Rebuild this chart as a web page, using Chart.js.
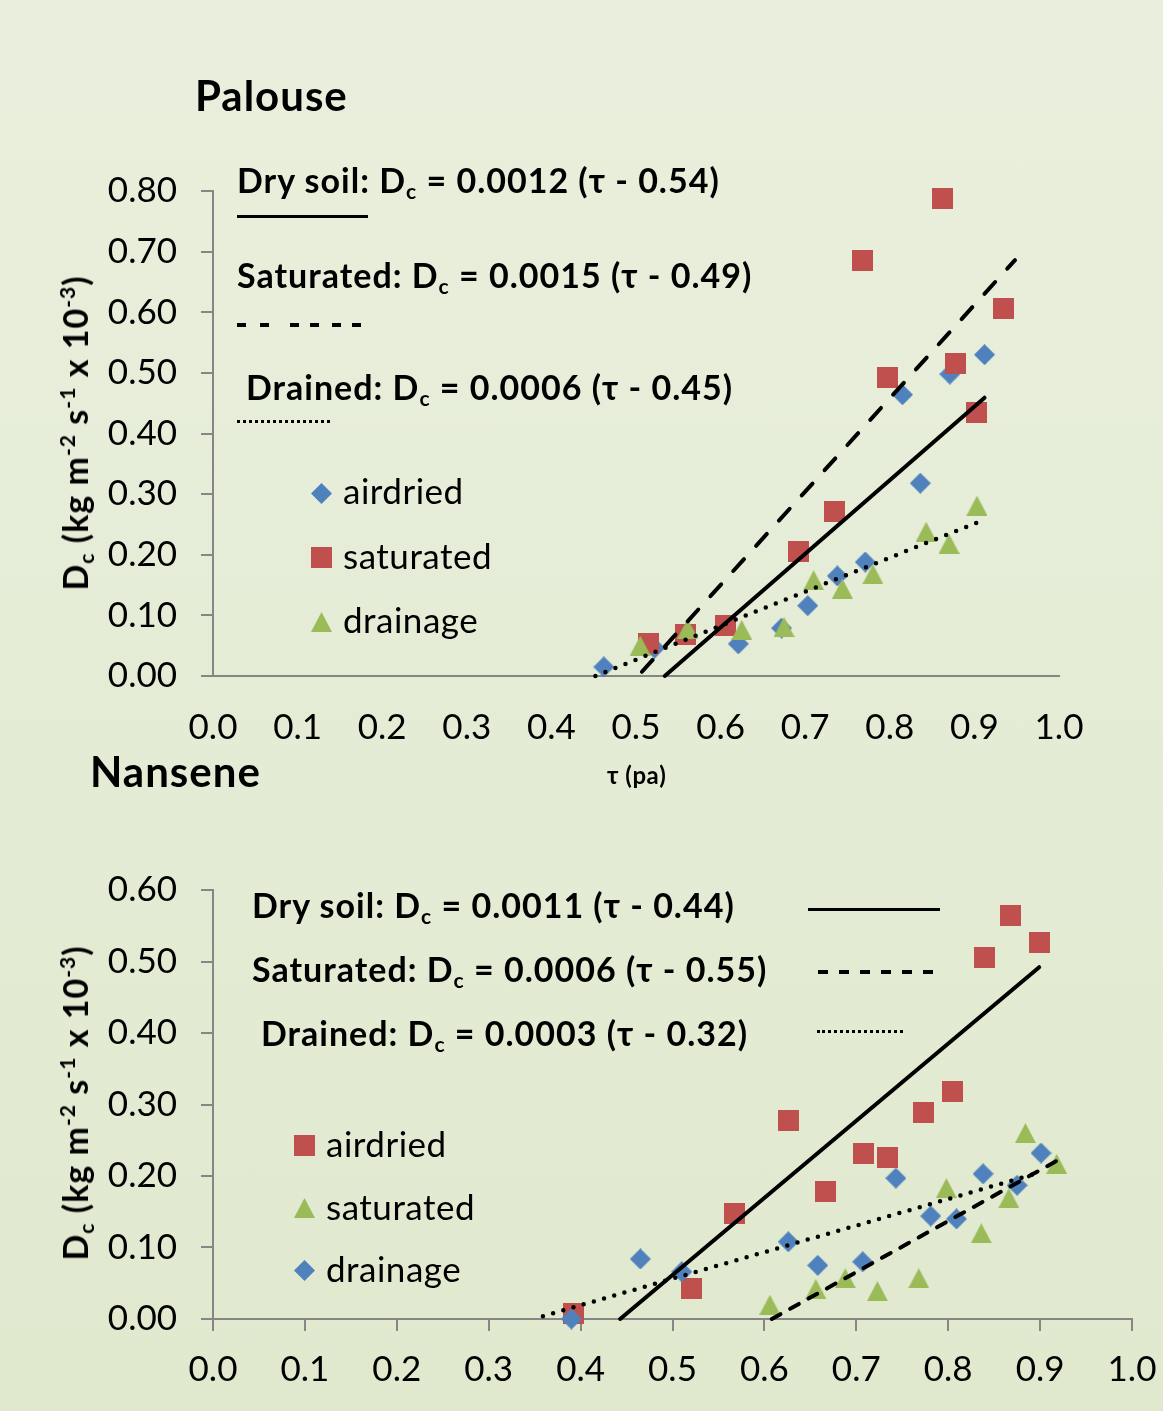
<!DOCTYPE html>
<html>
<head>
<meta charset="utf-8">
<title>Palouse / Nansene</title>
<script src="https://cdn.jsdelivr.net/npm/chart.js@4.4.1/dist/chart.umd.min.js"></script>
<style>
html,body{margin:0;padding:0;overflow:hidden}
body{width:1163px;height:1411px;position:relative;
 background:linear-gradient(180deg,#e9efdc 0%,#e5ecd6 50%,#e0e9ce 100%);
 font-family:Lato,"Open Sans",sans-serif;color:#000}
canvas.chart{position:absolute;left:0}
.t{position:absolute;white-space:nowrap;line-height:1}
.bold{font-weight:700}
.eq{font-size:34px;font-weight:700;letter-spacing:1px}
.lg{font-size:35px;letter-spacing:0.5px}
.ttl{font-size:42px;font-weight:700;letter-spacing:1px}
.ytitle{position:absolute;white-space:nowrap;line-height:1;font-size:34px;font-weight:700;letter-spacing:1px;transform:translate(-50%,-50%) rotate(-90deg)}
sub{font-size:62%;vertical-align:-0.3em;line-height:0}
sup{font-size:62%;vertical-align:0.6em;line-height:0}
.solid,.dash{position:absolute;background:#000}
.dots{position:absolute;height:0;border-top:3px dotted #000}
.mk{position:absolute}
</style>
</head>
<body>
<canvas id="top" class="chart" width="1163" height="760" style="top:0"></canvas>
<canvas id="bot" class="chart" width="1200" height="651" style="top:760px"></canvas>

<!-- Palouse texts -->
<div class="t ttl" style="left:195px;top:74px">Palouse</div>
<div class="t eq" style="left:237px;top:163px">Dry soil: D<sub>c</sub> = 0.0012 (τ - 0.54)</div>
<div class="solid" style="left:237px;top:215px;width:131px;height:3px"></div>
<div class="t eq" style="left:237px;top:258px">Saturated: D<sub>c</sub> = 0.0015 (τ - 0.49)</div>
<div class="dash" style="left:237px;top:323px;width:9px;height:4px"></div>
<div class="dash" style="left:260px;top:323px;width:9px;height:4px"></div>
<div class="dash" style="left:290px;top:323px;width:9px;height:4px"></div>
<div class="dash" style="left:310px;top:323px;width:9px;height:4px"></div>
<div class="dash" style="left:332px;top:323px;width:9px;height:4px"></div>
<div class="dash" style="left:352px;top:323px;width:9px;height:4px"></div>
<div class="t eq" style="left:246px;top:370px">Drained: D<sub>c</sub> = 0.0006 (τ - 0.45)</div>
<div class="dots" style="left:237px;top:420px;width:93px"></div>
<div class="t lg" style="left:343px;top:473px">airdried</div>
<div class="t lg" style="left:343px;top:538px">saturated</div>
<div class="t lg" style="left:343px;top:602px">drainage</div>
<div class="ytitle" style="left:75px;top:433px">D<sub>c</sub> (kg m<sup>-2</sup> s<sup>-1</sup> x 10<sup>-3</sup>)</div>
<div class="t bold" style="left:607px;top:763px;font-size:24px;letter-spacing:0.5px">τ (pa)</div>

<!-- Nansene texts -->
<div class="t ttl" style="left:90px;top:750px">Nansene</div>
<div class="t eq" style="left:252px;top:888px">Dry soil: D<sub>c</sub> = 0.0011 (τ - 0.44)</div>
<div class="solid" style="left:808px;top:908px;width:132px;height:3px"></div>
<div class="t eq" style="left:252px;top:952px">Saturated: D<sub>c</sub> = 0.0006 (τ - 0.55)</div>
<div class="dash" style="left:818px;top:970px;width:10px;height:4px"></div>
<div class="dash" style="left:839px;top:970px;width:10px;height:4px"></div>
<div class="dash" style="left:860px;top:970px;width:10px;height:4px"></div>
<div class="dash" style="left:881px;top:970px;width:10px;height:4px"></div>
<div class="dash" style="left:902px;top:970px;width:10px;height:4px"></div>
<div class="dash" style="left:923px;top:970px;width:10px;height:4px"></div>
<div class="t eq" style="left:261px;top:1016px">Drained: D<sub>c</sub> = 0.0003 (τ - 0.32)</div>
<div class="dots" style="left:817px;top:1030px;width:86px"></div>
<div class="t lg" style="left:326px;top:1126px">airdried</div>
<div class="t lg" style="left:326px;top:1189px">saturated</div>
<div class="t lg" style="left:326px;top:1251px">drainage</div>
<div class="ytitle" style="left:75px;top:1103px">D<sub>c</sub> (kg m<sup>-2</sup> s<sup>-1</sup> x 10<sup>-3</sup>)</div>

<script>
// ---------------- DATA ----------------
const xTicks = [0.0, 0.1, 0.2, 0.3, 0.4, 0.5, 0.6, 0.7, 0.8, 0.9, 1.0];
const yTicksTop = [0.0, 0.1, 0.2, 0.3, 0.4, 0.5, 0.6, 0.7, 0.8];
const yTicksBot = [0.0, 0.1, 0.2, 0.3, 0.4, 0.5, 0.6];

// Palouse
const airTopX = [0.462, 0.522, 0.621, 0.672, 0.703, 0.738, 0.771, 0.836, 0.815, 0.871, 0.912];
const airTopY = [0.015, 0.046, 0.053, 0.079, 0.116, 0.165, 0.188, 0.318, 0.464, 0.498, 0.530];
const satTopX = [0.515, 0.559, 0.606, 0.692, 0.735, 0.797, 0.878, 0.903, 0.934, 0.768, 0.862];
const satTopY = [0.053, 0.068, 0.084, 0.206, 0.272, 0.492, 0.515, 0.434, 0.607, 0.685, 0.787];
const draTopX = [0.505, 0.561, 0.625, 0.675, 0.710, 0.744, 0.780, 0.843, 0.870, 0.903];
const draTopY = [0.050, 0.078, 0.076, 0.081, 0.158, 0.144, 0.168, 0.238, 0.218, 0.281];
const dryLineTopX = [0.534, 0.912];
const dryLineTopY = [0.000, 0.459];
const satLineTopX = [0.507, 0.948];
const satLineTopY = [0.007, 0.686];
const draLineTopX = [0.452, 0.903];
const draLineTopY = [0.000, 0.253];

// Nansene
const airBotX = [0.392, 0.521, 0.567, 0.626, 0.667, 0.708, 0.734, 0.773, 0.805, 0.840, 0.868, 0.899];
const airBotY = [0.008, 0.043, 0.147, 0.278, 0.178, 0.231, 0.226, 0.289, 0.318, 0.506, 0.564, 0.527];
const satBotX = [0.606, 0.656, 0.688, 0.723, 0.768, 0.798, 0.836, 0.866, 0.884, 0.918];
const satBotY = [0.020, 0.042, 0.057, 0.039, 0.057, 0.183, 0.120, 0.169, 0.260, 0.217];
const draBotX = [0.390, 0.465, 0.510, 0.626, 0.658, 0.707, 0.743, 0.781, 0.809, 0.838, 0.875, 0.901];
const draBotY = [0.000, 0.084, 0.066, 0.108, 0.075, 0.080, 0.197, 0.144, 0.140, 0.203, 0.187, 0.232];
const dryLineBotX = [0.443, 0.899];
const dryLineBotY = [0.000, 0.492];
const satLineBotX = [0.608, 0.922];
const satLineBotY = [0.000, 0.224];
const draLineBotX = [0.359, 0.900];
const draLineBotY = [0.004, 0.205];

// ---------------- STYLE ----------------
const BLUE = '#4F81BD', RED = '#C0504D', GREEN = '#9BBB59', AX = '#868686';
const FONT = 'Lato, "Open Sans", sans-serif';

function marker(shape, color, w, h) {
  const c = document.createElement('canvas');
  c.width = w; c.height = h;
  const g = c.getContext('2d');
  g.fillStyle = color;
  g.beginPath();
  if (shape === 'diamond') { g.moveTo(w/2, 0); g.lineTo(w, h/2); g.lineTo(w/2, h); g.lineTo(0, h/2); }
  else if (shape === 'square') { g.rect(0, 0, w, h); }
  else { g.moveTo(w/2, 0); g.lineTo(w, h); g.lineTo(0, h); }
  g.closePath(); g.fill();
  return c;
}
const diaB = () => marker('diamond', BLUE, 21, 21);
const sqR = () => marker('square', RED, 21, 21);
const triG = () => marker('triangle', GREEN, 21, 20);

function pts(xs, ys) { return xs.map((x, i) => ({x: x, y: ys[i]})); }
function lineDs(xs, ys, dash, w) {
  return { data: pts(xs, ys), showLine: true, borderColor: '#000', borderWidth: w,
    borderDash: dash, borderCapStyle: 'round', pointRadius: 0, pointHoverRadius: 0,
    fill: false, tension: 0, clip: false };
}
function ptDs(xs, ys, img) {
  return { data: pts(xs, ys), showLine: false, pointStyle: img, pointRadius: 11,
    pointHoverRadius: 11, clip: false };
}
function scales(yTicks, xh, xTickMarks, xpad) {
  return {
    x: { type: 'linear', min: xTicks[0], max: xTicks[xTicks.length - 1],
      afterBuildTicks: s => { s.ticks = xTicks.map(v => ({value: v})); },
      afterFit: s => { s.height = xh; },
      grid: { display: true, drawOnChartArea: false, drawTicks: xTickMarks, tickLength: 12, color: AX, tickColor: AX, lineWidth: 2 },
      border: { display: true, color: AX, width: 2 },
      ticks: { autoSkip: false, maxRotation: 0, padding: xpad, color: '#000', font: {family: FONT, size: 35},
        callback: v => Number(v).toFixed(1) }
    },
    y: { type: 'linear', min: yTicks[0], max: yTicks[yTicks.length - 1],
      afterBuildTicks: s => { s.ticks = yTicks.map(v => ({value: v})); },
      afterFit: s => { s.width = 213; },
      grid: { display: true, drawOnChartArea: false, drawTicks: true, tickLength: 12, color: AX, tickColor: AX, lineWidth: 2 },
      border: { display: true, color: AX, width: 2 },
      ticks: { padding: 24, color: '#000', font: {family: FONT, size: 35},
        callback: v => Number(v).toFixed(2) }
    }
  };
}
function common(padding, sc) {
  return { responsive: false, animation: false, devicePixelRatio: 1, events: [],
    layout: { padding: padding },
    plugins: { legend: { display: false }, tooltip: { enabled: false } },
    scales: sc };
}

function build() {
  new Chart(document.getElementById('top'), {
    type: 'scatter',
    data: { datasets: [
      lineDs(dryLineTopX, dryLineTopY, [], 4),
      lineDs(satLineTopX, satLineTopY, [16, 18], 4),
      lineDs(draLineTopX, draLineTopY, [0, 10.8], 4.5),
      ptDs(draTopX, draTopY, triG()),
      ptDs(satTopX, satTopY, sqR()),
      ptDs(airTopX, airTopY, diaB())
    ]},
    options: common({left: 0, top: 191, right: 104, bottom: 0}, scales(yTicksTop, 84, false, 31))
  });

  new Chart(document.getElementById('bot'), {
    type: 'scatter',
    data: { datasets: [
      lineDs(dryLineBotX, dryLineBotY, [], 4),
      lineDs(satLineBotX, satLineBotY, [10, 11], 4),
      lineDs(draLineBotX, draLineBotY, [0, 10.6], 4.5),
      ptDs(draBotX, draBotY, diaB()),
      ptDs(satBotX, satBotY, triG()),
      ptDs(airBotX, airBotY, sqR())
    ]},
    options: common({left: 0, top: 130, right: 68, bottom: 0}, scales(yTicksBot, 92, true, 18))
  });

  // legend markers
  const legend = [
    [diaB, 321, 493], [sqR, 321, 557], [triG, 321, 622],
    [sqR, 304, 1145], [triG, 304, 1208], [diaB, 304, 1270]
  ];
  legend.forEach(([f, cx, cy]) => {
    const c = f();
    c.className = 'mk';
    c.style.left = (cx - c.width / 2) + 'px';
    c.style.top = (cy - c.height / 2) + 'px';
    document.body.appendChild(c);
  });
}

if (document.fonts && document.fonts.load) {
  Promise.all([document.fonts.load('35px Lato'), document.fonts.load('bold 34px Lato')])
    .then(build, build);
} else { build(); }
</script>
</body>
</html>
